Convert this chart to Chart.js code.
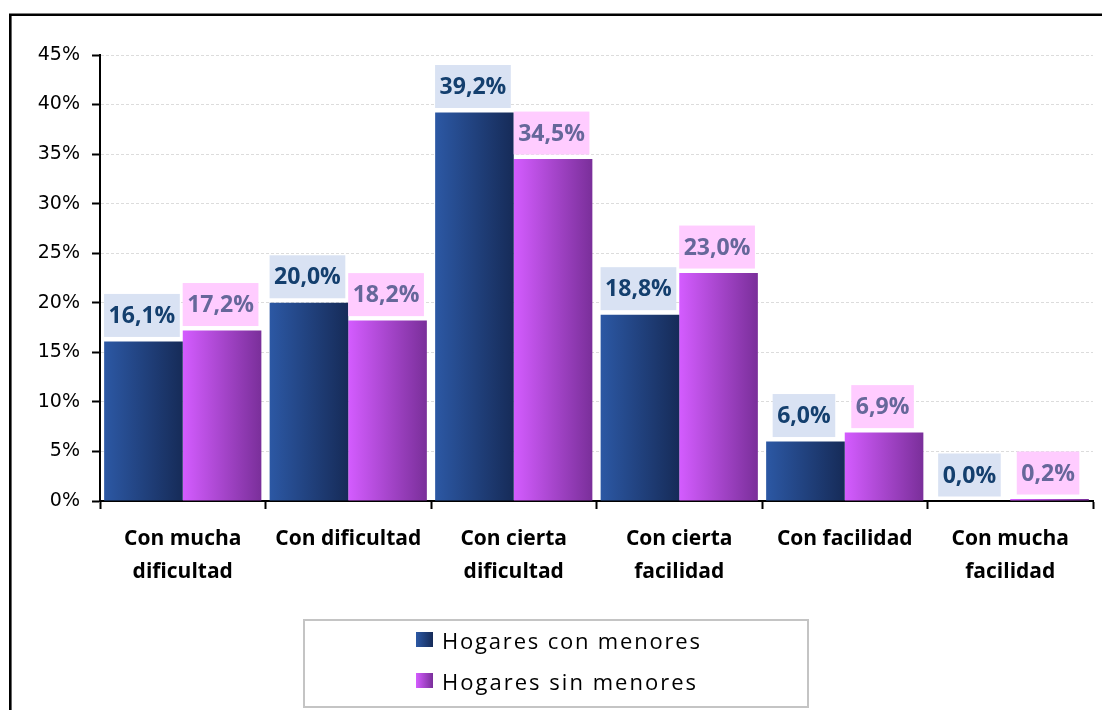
<!DOCTYPE html>
<html>
<head>
<meta charset="utf-8">
<script src="https://cdn.jsdelivr.net/npm/chart.js@4"></script>
<style>
  html, body { margin: 0; padding: 0; background: #fff; overflow: hidden; }
  canvas { display: block; }
</style>
</head>
<body>
<canvas id="chart" width="1102" height="710"></canvas>
<script>
// categories and values (percent)
const categories = [
    ['Con mucha', 'dificultad'],
    'Con dificultad',
    ['Con cierta', 'dificultad'],
    ['Con cierta', 'facilidad'],
    'Con facilidad',
    ['Con mucha', 'facilidad']
];
const seriesNames = ['Hogares con menores', 'Hogares sin menores'];
const conMenores = [16.1, 20.0, 39.2, 18.8, 6.0, 0.0];
const sinMenores = [17.2, 18.2, 34.5, 23.0, 6.9, 0.2];
const yTicks = [0, 5, 10, 15, 20, 25, 30, 35, 40, 45];

const TICK_FONT = "'DejaVu Sans', Verdana, sans-serif";
const FONT = "'Open Sans', 'DejaVu Sans', sans-serif";
const CAT_PCT = 0.95;

// colours per series: gradient left/right, label box bg, label text
const styles = [
    { from: '#2c58a4', to: '#162b58', box: '#d9e2f3', text: '#143f6e' },
    { from: '#d45cff', to: '#7a2f9a', box: '#ffccff', text: '#66679a' }
];

const pct = v => v.toFixed(1).replace('.', ',') + '%';

// horizontal gradient for each bar, from the x scale
function barFill(ctx) {
    const s = styles[ctx.datasetIndex];
    const chart = ctx.chart;
    const x = chart.scales.x;
    if (!x || ctx.type !== 'data' || !x.width) return s.from;
    const group = (x.width / categories.length) * CAT_PCT;
    const barW = group / 2;
    const left = x.getPixelForValue(ctx.dataIndex) - group / 2 + ctx.datasetIndex * barW;
    const g = chart.ctx.createLinearGradient(left, 0, left + barW, 0);
    g.addColorStop(0, s.from);
    g.addColorStop(1, s.to);
    return g;
}

// value labels with coloured boxes
const valueBoxes = {
    id: 'valueBoxes',
    afterDatasetsDraw(chart) {
        const ctx = chart.ctx;
        ctx.save();
        ctx.font = 'bold 23px ' + FONT;
        ctx.textAlign = 'center';
        ctx.textBaseline = 'middle';
        chart.data.datasets.forEach((ds, di) => {
            const s = styles[di];
            chart.getDatasetMeta(di).data.forEach((bar, i) => {
                const txt = pct(ds.data[i]);
                const w = ctx.measureText(txt).width + 9;
                const h = 43;
                const cx = bar.x - 1.5;
                const bottom = bar.y - 4.5;
                ctx.fillStyle = s.box;
                ctx.fillRect(cx - w / 2, bottom - h, w, h);
                ctx.fillStyle = s.text;
                ctx.fillText(txt, cx, bottom - h / 2 + 1);
            });
        });
        ctx.restore();
    }
};

// frame + boxed legend
const frameAndLegend = {
    id: 'frameAndLegend',
    afterDraw(chart) {
        const ctx = chart.ctx;
        ctx.save();
        // outer frame (only top and left are in view)
        ctx.strokeStyle = '#000';
        ctx.lineWidth = 2.6;
        ctx.beginPath();
        ctx.moveTo(10.3, 712);
        ctx.lineTo(10.3, 14.7);
        ctx.lineTo(1104, 14.7);
        ctx.stroke();

        // legend box
        ctx.strokeStyle = '#c4c4c4';
        ctx.lineWidth = 2;
        ctx.strokeRect(304, 620, 504, 87);

        ctx.font = '22px ' + FONT;
        ctx.textAlign = 'left';
        ctx.textBaseline = 'alphabetic';
        chart.data.datasets.forEach((ds, di) => {
            const s = styles[di];
            const top = 632 + di * 41;
            const g = ctx.createLinearGradient(416, 0, 433, 0);
            g.addColorStop(0, s.from);
            g.addColorStop(1, s.to);
            ctx.fillStyle = g;
            ctx.fillRect(416, top, 17, 15);
            // spread letters like the original legend
            ctx.letterSpacing = '0px';
            const target = di === 0 ? 258 : 254;
            const plain = ctx.measureText(ds.label).width;
            ctx.letterSpacing = ((target - plain) / (ds.label.length - 1)).toFixed(2) + 'px';
            ctx.fillStyle = '#000';
            ctx.fillText(ds.label, 442, top + 17);
        });
        ctx.letterSpacing = '0px';
        ctx.restore();
    }
};

new Chart(document.getElementById('chart'), {
    type: 'bar',
    data: {
        labels: categories,
        datasets: [
            { label: seriesNames[0], data: conMenores, backgroundColor: barFill },
            { label: seriesNames[1], data: sinMenores, backgroundColor: barFill }
        ]
    },
    options: {
        responsive: false,
        devicePixelRatio: 1,
        animation: false,
        events: [],
        layout: { padding: { left: 0, right: 9, top: 55, bottom: 109 } },
        datasets: { bar: { categoryPercentage: CAT_PCT, barPercentage: 1, borderWidth: 0 } },
        plugins: { legend: { display: false }, tooltip: { enabled: false } },
        scales: {
            x: {
                afterFit(scale) { scale.height = 100; },
                grid: {
                    display: true,
                    drawOnChartArea: false,
                    drawTicks: true,
                    tickLength: 8,
                    tickColor: '#000',
                    tickWidth: 2,
                    offset: true
                },
                border: { display: true, color: '#000', width: 2 },
                ticks: {
                    color: '#000',
                    padding: 14,
                    maxRotation: 0,
                    autoSkip: false,
                    font: { family: FONT, size: 21, weight: 'bold', lineHeight: 1.57 }
                }
            },
            y: {
                min: 0,
                max: 45,
                afterFit(scale) { scale.width = 100; },
                afterBuildTicks(scale) { scale.ticks = yTicks.map(v => ({ value: v })); },
                grid: {
                    color: '#dcdcdc',
                    lineWidth: 1,
                    borderDash: [3, 2],
                    tickColor: '#000',
                    tickWidth: 2,
                    tickLength: 8,
                    tickBorderDash: []
                },
                border: { display: true, color: '#000', width: 2, dash: [3, 2] },
                ticks: {
                    color: '#000',
                    padding: 12,
                    font: { family: TICK_FONT, size: 19 },
                    callback: v => v + '%'
                }
            }
        }
    },
    plugins: [valueBoxes, frameAndLegend]
});
</script>
</body>
</html>
